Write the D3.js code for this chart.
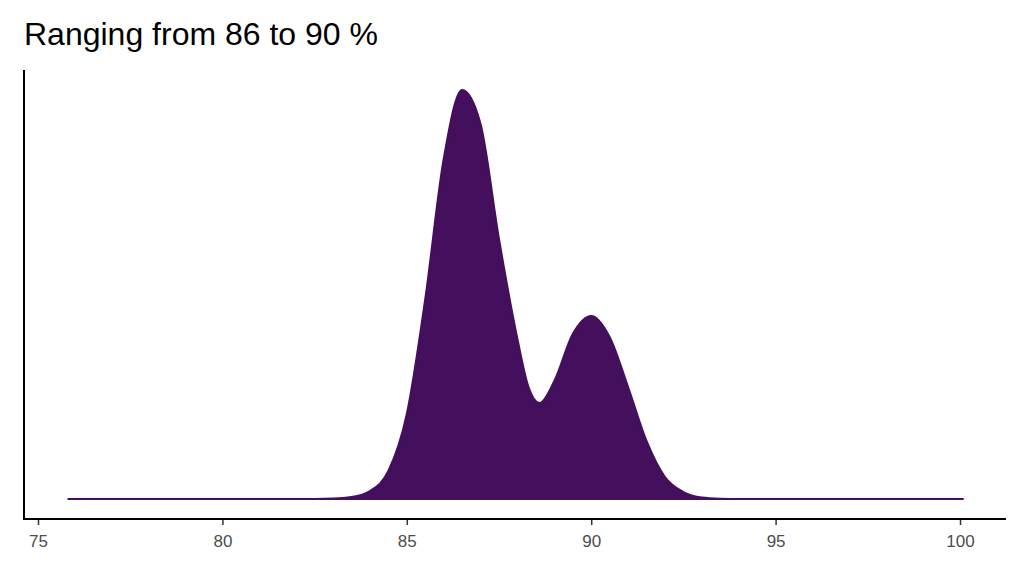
<!DOCTYPE html><html><head><meta charset="utf-8">
<script src="https://cdn.jsdelivr.net/npm/d3@7"></script>
<style>body{margin:0;background:#fff}</style></head><body>
<svg id="c" width="1024" height="576"></svg>
<script>
const xs = [75.8,82,83,83.5,84,84.5,85,85.5,86,86.5,87,87.5,88,88.3,88.6,89,89.5,90,90.5,91,91.5,92,92.5,93,93.5,94,100.1];
const ys = [0,0,0.5,2,8,28,85,200,340,409,375,260,160,112,96,118,165,183,162,112,58,22,7,1.5,0.3,0,0];
const xTicks = [75,80,85,90,95,100];
const title = "Ranging from 86 to 90 %";
const svg = d3.select("#c");
const x = d3.scaleLinear().domain([75,100]).range([38,960]);
const y = d3.scaleLinear().domain([0,409]).range([499,90]);
const data = xs.map((v,i)=>({x:v,y:ys[i]}));
svg.append("path").datum(data)
  .attr("d", d3.area().x(d=>x(d.x)).y0(y(0)).y1(d=>y(d.y)).curve(d3.curveMonotoneX))
  .attr("fill","#440f5c").attr("stroke","#440f5c").attr("stroke-width",2);
const ax = svg.append("g").attr("transform","translate(0,519)")
  .call(d3.axisBottom(x).tickValues(xTicks).tickSize(6).tickSizeOuter(0));
ax.select(".domain").remove();
ax.selectAll("line").attr("stroke","#333").attr("stroke-width",1.5);
ax.selectAll("text").attr("fill","#4d4d4d").attr("font-size",17).attr("font-family","Liberation Sans, Arial").attr("dy","1.1em");
svg.append("line").attr("x1",24).attr("x2",1006).attr("y1",519).attr("y2",519).attr("stroke","#000").attr("stroke-width",2);
svg.append("line").attr("x1",24).attr("x2",24).attr("y1",70).attr("y2",520).attr("stroke","#000").attr("stroke-width",2);
svg.append("text").attr("x",24).attr("y",45).attr("font-size",32).attr("font-family","Liberation Sans, Arial").attr("fill","#000").text(title);
</script></body></html>
